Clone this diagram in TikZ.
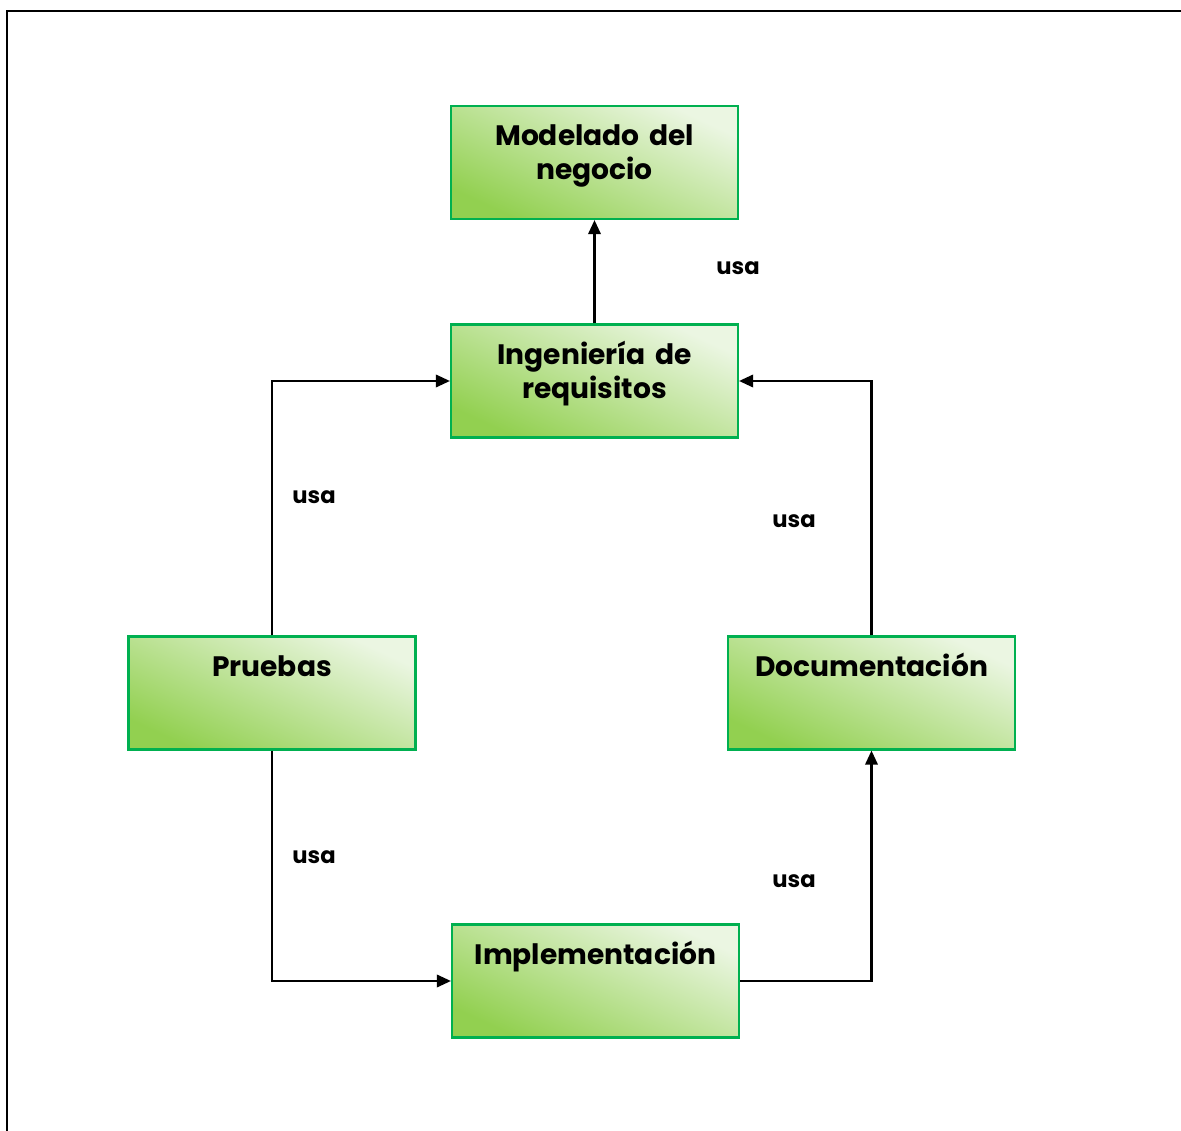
\documentclass[tikz,border=0pt]{standalone}
\usepackage{fontspec}
\setmainfont{Poppins}
\usetikzlibrary{arrows.meta,positioning}

\definecolor{boxline}{HTML}{00B050}
\definecolor{boxdark}{HTML}{92D050}
\definecolor{boxlight}{HTML}{EBF6E2}

\begin{document}
\begin{tikzpicture}[
  x=0.02cm, y=0.02cm,
  font=\bfseries,
  arrow/.style={-{Triangle[length=8pt,width=7pt]}, draw=black, line width=1.4pt},
  procbox/.style={draw=boxline, line width=1.2pt, shading=axis,
    bottom color=boxdark, top color=boxlight, shading angle=-25,
    align=center, font=\bfseries\fontsize{16}{19.3}\selectfont,
    text width=5.6cm, minimum width=5.74cm, minimum height=2.26cm,
    inner sep=0pt, text height=0.8cm, text depth=1.46cm},
  usalbl/.style={font=\bfseries\fontsize{12.9}{15}\selectfont}
]
\useasboundingbox (0,0) rectangle (1181,-1131);
\clip (0,0) rectangle (1181,-1131);

% frame
\draw[line width=1.1pt] (7,-1200) -- (7,-11) -- (1250,-11);

% Boxes
\node[procbox] (modelado) at (594.5,-162.5) {Modelado del\\negocio};
\node[procbox] (ingenieria) at (594.5,-381) {Ingeniería de\\requisitos};
\node[procbox] (pruebas) at (272,-693) {Pruebas};
\node[procbox] (documentacion) at (871.5,-693) {Documentación};
\node[procbox] (implementacion) at (595.5,-981) {Implementación};

% Labels
\node[usalbl] (usa1) at (738,-268) {usa};
\node[usalbl] (usa2) at (314,-497) {usa};
\node[usalbl] (usa3) at (794,-521) {usa};
\node[usalbl] (usa4) at (314,-857) {usa};
\node[usalbl] (usa5) at (794,-881) {usa};

% Arrows
\draw[arrow] (ingenieria.north) -- (modelado.south);
\draw[arrow] (pruebas.north) |- (ingenieria.west);
\draw[arrow] (documentacion.north) |- (ingenieria.east);
\draw[arrow] (pruebas.south) |- (implementacion.west);
\draw[arrow] (implementacion.east) -| (documentacion.south);

\end{tikzpicture}
\end{document}
